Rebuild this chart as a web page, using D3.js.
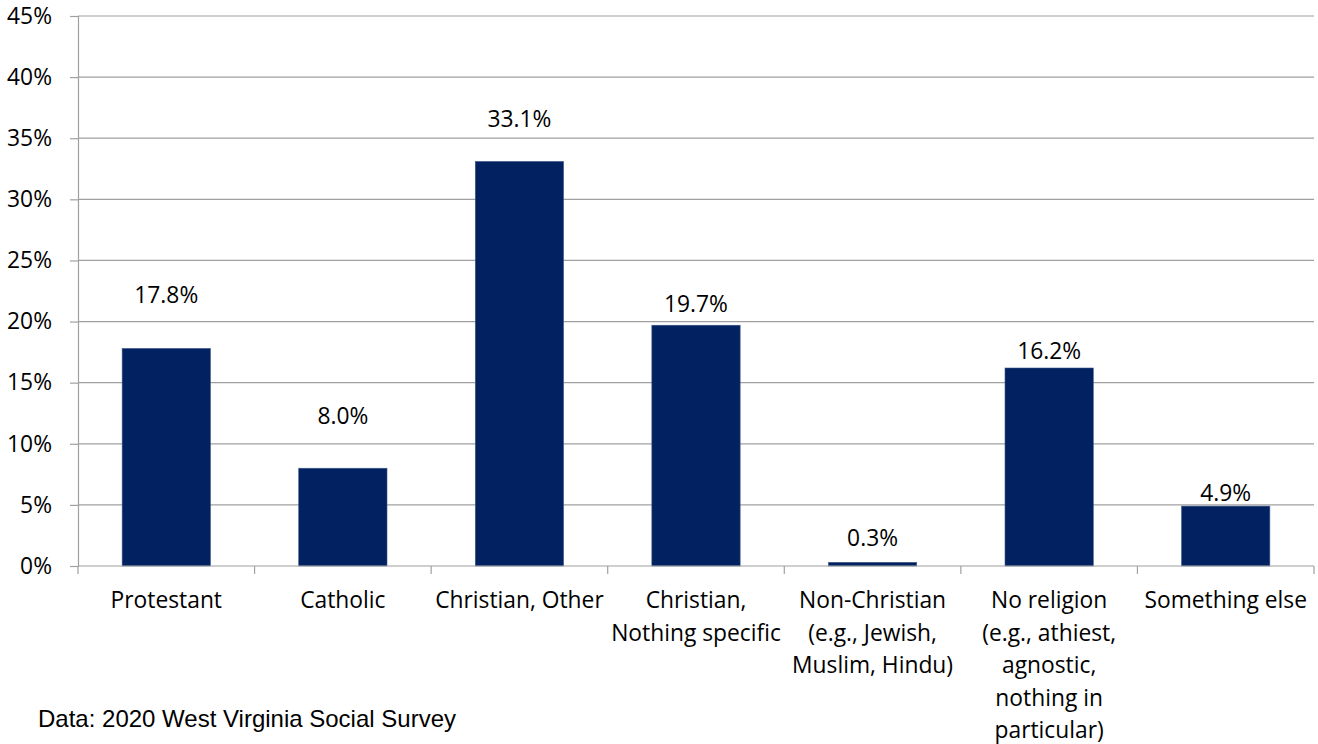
<!DOCTYPE html>
<html lang="en">
<head>
<meta charset="utf-8">
<title>Religion - 2020 West Virginia Social Survey</title>
<script src="https://cdn.jsdelivr.net/npm/d3@7"></script>
<style>
  body { margin: 0; background: #fff; }
  svg text { font-family: "Open Sans", Lato, sans-serif; fill: #000; }
  .note { font-family: "Liberation Sans", Arial, sans-serif; }
</style>
</head>
<body>
<script>
// categories (each label split in its printed lines)
var categories = [
  ["Protestant"],
  ["Catholic"],
  ["Christian, Other"],
  ["Christian,", "Nothing specific"],
  ["Non-Christian", "(e.g., Jewish,", "Muslim, Hindu)"],
  ["No religion", "(e.g., athiest,", "agnostic,", "nothing in", "particular)"],
  ["Something else"]
];
// percent of respondents
var values = [17.8, 8.0, 33.1, 19.7, 0.3, 16.2, 4.9];
var yTicks = [0, 5, 10, 15, 20, 25, 30, 35, 40, 45];

// label gap above each bar, px (as placed in the original)
var labelGap = [53, 52, 42, 21, 24, 17, 13];

var w = 1318, h = 744;
var mLeft = 78, mRight = 1314, mTop = 16, mBottom = 566;
var fontSize = 22.8;

var svg = d3.select("body").append("svg")
  .attr("width", w).attr("height", h);

var x = d3.scaleBand()
  .domain(d3.range(categories.length))
  .range([mLeft, mRight])
  .paddingInner(0.5).paddingOuter(0.25);

var y = d3.scaleLinear().domain([0, 45]).range([mBottom, mTop]);

// gridlines
svg.append("g")
  .selectAll("line").data(yTicks.slice(1)).join("line")
  .attr("x1", mLeft).attr("x2", mRight)
  .attr("y1", d => y(d)).attr("y2", d => y(d))
  .attr("stroke", "#a0a0a0").attr("stroke-width", 1.2);

// y axis
var yAxis = svg.append("g")
  .attr("transform", "translate(" + mLeft + ",0)")
  .call(d3.axisLeft(y).tickValues(yTicks).tickFormat(d => d + "%").tickSize(8).tickPadding(18));
yAxis.select(".domain").attr("stroke", "#a0a0a0").attr("stroke-width", 1.2);
yAxis.selectAll(".tick line").attr("stroke", "#a0a0a0").attr("stroke-width", 1.2);
yAxis.selectAll(".tick text").attr("font-size", fontSize).attr("fill", "#000")
  .style("font-family", "'Open Sans', sans-serif");

// bars
svg.append("g")
  .selectAll("rect").data(values).join("rect")
  .attr("x", (d, i) => x(i))
  .attr("y", d => y(d))
  .attr("width", x.bandwidth())
  .attr("height", d => y(0) - y(d))
  .attr("fill", "#022160")
  .attr("stroke", "#3d5a8a").attr("stroke-width", 0.6);

// x axis line and category ticks
svg.append("line")
  .attr("x1", mLeft).attr("x2", mRight)
  .attr("y1", y(0)).attr("y2", y(0))
  .attr("stroke", "#a0a0a0").attr("stroke-width", 1.2);
svg.append("g")
  .selectAll("line").data(d3.range(categories.length + 1)).join("line")
  .attr("x1", i => mLeft + i * x.step())
  .attr("x2", i => mLeft + i * x.step())
  .attr("y1", y(0)).attr("y2", y(0) + 8)
  .attr("stroke", "#a0a0a0").attr("stroke-width", 1.2);

// category labels
var catG = svg.append("g").selectAll("text").data(categories).join("text")
  .attr("text-anchor", "middle")
  .attr("font-size", fontSize)
  .attr("x", (d, i) => x(i) + x.bandwidth() / 2)
  .attr("y", 608);
catG.selectAll("tspan").data(d => d).join("tspan")
  .attr("x", function() { return d3.select(this.parentNode).attr("x"); })
  .attr("dy", (d, j) => j === 0 ? 0 : 32.6)
  .text(d => d);

// value labels
svg.append("g")
  .selectAll("text").data(values).join("text")
  .attr("text-anchor", "middle")
  .attr("font-size", fontSize)
  .attr("x", (d, i) => x(i) + x.bandwidth() / 2)
  .attr("y", (d, i) => y(d) - labelGap[i] + 8)
  .text(d => d.toFixed(1) + "%");

// source note
svg.append("text")
  .attr("class", "note")
  .attr("x", 38).attr("y", 727)
  .attr("font-size", 24)
  .text("Data: 2020 West Virginia Social Survey");
</script>
</body>
</html>
